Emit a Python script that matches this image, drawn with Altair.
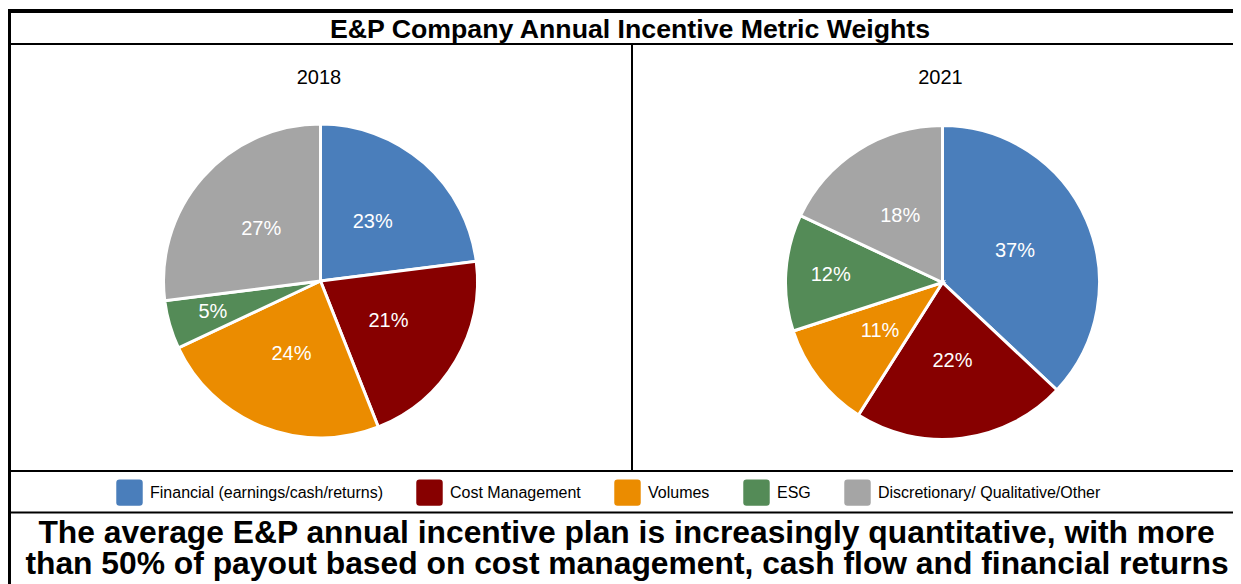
import altair as alt
import pandas as pd

# ---------------- data ----------------
categories = [
    "Financial (earnings/cash/returns)",
    "Cost Management",
    "Volumes",
    "ESG",
    "Discretionary/ Qualitative/Other",
]
colors = ["#4a7ebb", "#870000", "#eb8c00", "#548b57", "#a5a5a5"]
years = ["2018", "2021"]
weights_2018 = [23, 21, 24, 5, 27]
weights_2021 = [37, 22, 11, 12, 18]
title_text = "E&P Company Annual Incentive Metric Weights"
caption_lines = [
    "The average E&P annual incentive plan is increasingly quantitative, with more",
    "than 50% of payout based on cost management, cash flow and financial returns",
]

rows = []
for year, vals in zip(years, [weights_2018, weights_2021]):
    for i, (c, v) in enumerate(zip(categories, vals)):
        rows.append({"year": year, "category": c, "idx": i, "value": v})
df = pd.DataFrame(rows)

# ---------------- layout ----------------
FONT = "Liberation Sans"
W, H = 1225, 576
R = 157
centers = {"2018": (312.5, 273.0), "2021": (934.5, 274.5)}
year_label_x = {"2018": 311, "2021": 932.5}

color_scale = alt.Scale(domain=categories, range=colors)
rounded_square = (
    "M-1,-0.75 Q-1,-1 -0.75,-1 L0.75,-1 Q1,-1 1,-0.75 L1,0.75 Q1,1 0.75,1 "
    "L-0.75,1 Q-1,1 -1,0.75 Z"
)
legend = alt.Legend(
    orient="none",
    legendX=108,
    legendY=471,
    direction="horizontal",
    columns=5,
    title=None,
    symbolType=rounded_square,
    symbolSize=700,
    symbolStrokeWidth=0,
    labelFont=FONT,
    labelFontSize=16,
    labelColor="#000000",
    labelOffset=7,
    labelLimit=0,
    columnPadding=33,
    padding=0,
)

deco = pd.DataFrame({"d": [0]})


def hrule(y, x1, x2, w):
    return alt.Chart(deco).mark_rule(color="black", strokeWidth=w).encode(
        x=alt.value(x1), x2=alt.value(x2), y=alt.value(y)
    )


def vrule(x, y1, y2, w):
    return alt.Chart(deco).mark_rule(color="black", strokeWidth=w).encode(
        x=alt.value(x), y=alt.value(y1), y2=alt.value(y2)
    )


def text_at(txt, x, y, size, bold=False):
    return alt.Chart(deco).mark_text(
        font=FONT,
        fontSize=size,
        fontWeight="bold" if bold else "normal",
        align="center",
        baseline="alphabetic",
        color="black",
        text=txt,
    ).encode(x=alt.value(x), y=alt.value(y))


def pie(year):
    cx, cy = centers[year]
    base = alt.Chart(df).transform_filter(alt.datum.year == year)
    arc = base.mark_arc(radius=R, stroke="white", strokeWidth=3).encode(
        theta=alt.Theta("value:Q", stack=True),
        color=alt.Color("category:N", scale=color_scale, legend=legend, sort=categories),
        order=alt.Order("idx:Q"),
        x=alt.value(cx),
        y=alt.value(cy),
    )
    lab_base = base.transform_window(
        cum="sum(value)",
        sort=[alt.SortField("idx", order="ascending")],
        frame=[None, 0],
    ).transform_calculate(
        mid="datum.cum - datum.value / 2",
        label="datum.value + '%'",
    )
    layers = []
    for is_small, rad in [(False, 79), (True, 112)]:
        cond = (alt.datum.category == "ESG") if is_small else (alt.datum.category != "ESG")
        layers.append(
            lab_base.transform_filter(cond)
            .mark_text(font=FONT, fontSize=20, color="white", align="center", baseline="middle")
            .encode(
                theta=alt.Theta("mid:Q"),
                radius=alt.value(rad),
                text=alt.Text("label:N"),
                x=alt.value(cx),
                y=alt.value(cy),
            )
        )
    ylab = text_at(year, year_label_x[year], 76, 20)
    return [arc] + layers + [ylab]


layers = []
layers += pie("2018")
layers += pie("2021")
layers += [
    hrule(3, -2, W, 4),          # top frame
    vrule(1, 1, H, 4),           # left frame
    hrule(36, 1, W, 2),          # under title
    vrule(624, 36, 463, 2),      # divider between pies
    hrule(463, 1, W, 2),         # above legend
    hrule(504.5, 1, W, 2),       # below legend
    text_at(title_text, 622, 29.5, 26.7, bold=True),
    text_at(caption_lines[0], 618.5, 534.5, 31.8, bold=True),
    text_at(caption_lines[1], 619, 565.5, 31.8, bold=True),
]

chart = (
    alt.layer(*layers)
    .properties(width=W, height=H, padding=0, autosize="none", background="white")
    .configure_view(stroke=None)
)

chart.save("out.html", embed_options={"renderer": "svg", "actions": False})
